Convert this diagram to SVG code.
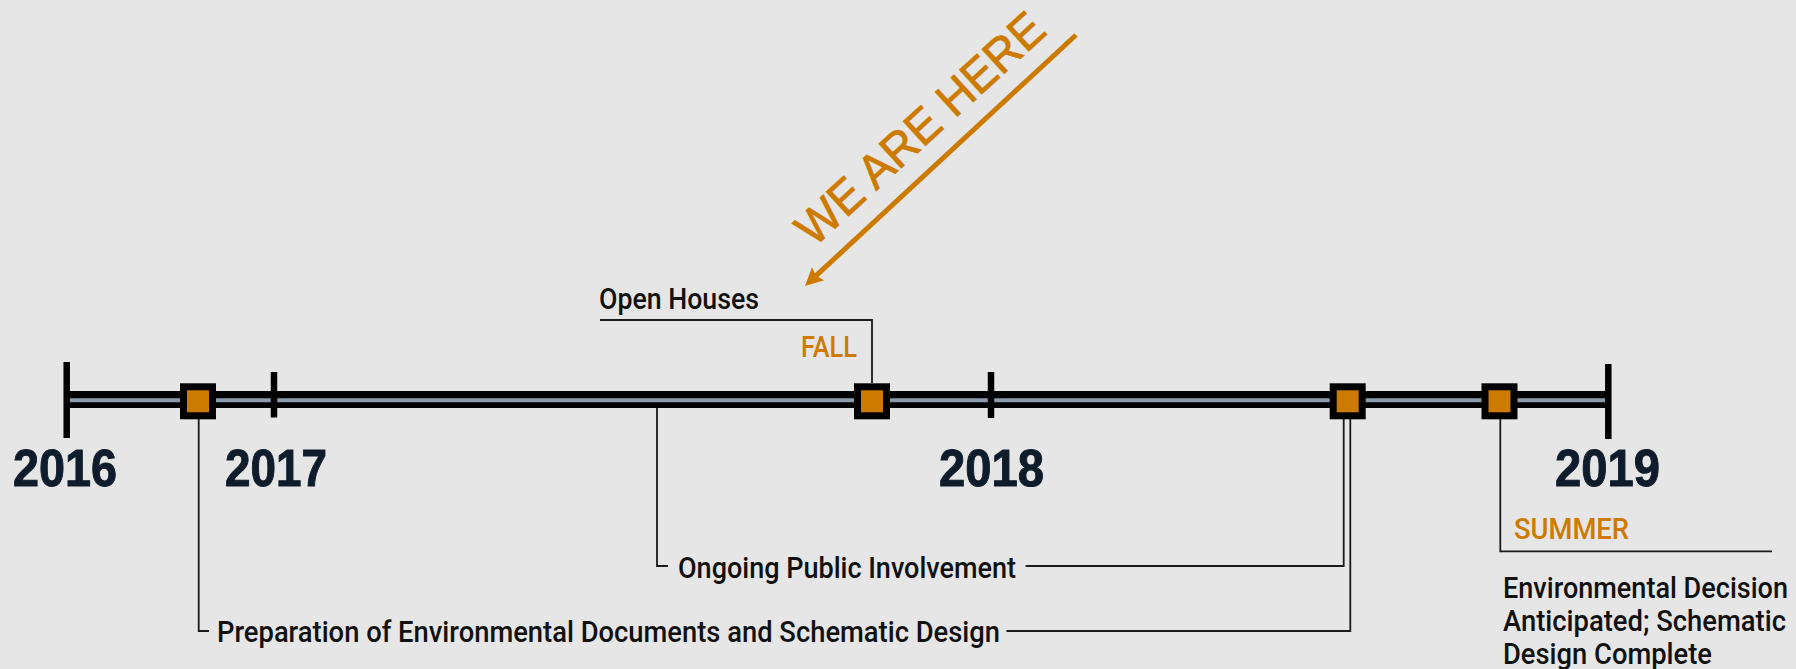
<svg xmlns="http://www.w3.org/2000/svg" width="1796" height="669" viewBox="0 0 1796 669">
<defs>
<style>
.year{font-family:"Liberation Sans",Arial,sans-serif;font-weight:bold;font-size:52px;fill:#0e1c2c;stroke:#0e1c2c;stroke-width:1}
.lbl{font-family:"Roboto","Liberation Sans",sans-serif;font-weight:500;font-size:30px;fill:#111}
.season{font-family:"Roboto","Liberation Sans",sans-serif;font-weight:500;font-size:30px;fill:#cc7a00}
.conn{fill:none;stroke:#1a1a1a;stroke-width:1.8}
.tick{stroke:#000;stroke-width:6.5}
.sq{fill:#cc7a00;stroke:#000;stroke-width:7}
</style>
<marker id="ah" viewBox="0 -10 20 20" markerWidth="20" markerHeight="20" refX="8" refY="0" orient="auto" markerUnits="userSpaceOnUse">
<path d="M0,-9 L18,0 L0,9 L3,0 Z" fill="#cc7a00"/>
</marker>
</defs>
<rect width="1796" height="669" fill="#e6e6e6"/>

<g id="timeline">
<line x1="66" y1="399.5" x2="1608" y2="399.5" stroke="#000" stroke-width="17"/>
<line x1="66" y1="400.3" x2="1608" y2="400.3" stroke="#8a9bae" stroke-width="4"/>
<line class="tick" x1="66.7" y1="362" x2="66.7" y2="438"/>
<line class="tick" x1="274" y1="372" x2="274" y2="417.5"/>
<line class="tick" x1="991" y1="372" x2="991" y2="418"/>
<line class="tick" x1="1608.3" y1="364" x2="1608.3" y2="439"/>
</g>

<g id="connectors">
<polyline class="conn" points="198.7,419 198.7,631 209,631"/>
<polyline class="conn" points="1006.5,631 1350.3,631 1350.3,419"/>
<polyline class="conn" points="657,408 657,566 668,566"/>
<polyline class="conn" points="1025.6,566 1343.7,566 1343.7,419"/>
<polyline class="conn" points="600,320 872,320 872,383"/>
<polyline class="conn" points="1500.3,419 1500.3,551.3 1772,551.3"/>
<line x1="1076" y1="35" x2="812.3" y2="279.2" stroke="#cc7a00" stroke-width="5" marker-end="url(#ah)"/>
</g>

<g id="years">
<text class="year" x="13" y="486" textLength="104" lengthAdjust="spacingAndGlyphs">2016</text>
<text class="year" x="225" y="486" textLength="102" lengthAdjust="spacingAndGlyphs">2017</text>
<text class="year" x="939" y="486" textLength="105" lengthAdjust="spacingAndGlyphs">2018</text>
<text class="year" x="1555" y="486" textLength="105" lengthAdjust="spacingAndGlyphs">2019</text>
</g>

<g id="m1">
<rect class="sq" x="183.5" y="386.8" width="29" height="29"/>
</g>
<g id="m2">
<rect class="sq" x="857.5" y="386.8" width="29" height="29"/>
</g>
<g id="m3">
<rect class="sq" x="1333.2" y="386.8" width="29" height="29"/>
</g>
<g id="m4">
<rect class="sq" x="1485" y="386.8" width="29" height="29"/>
</g>

<g id="open-houses">
<text class="lbl" x="599" y="309" textLength="160" lengthAdjust="spacingAndGlyphs">Open Houses</text>
<text class="season" x="801" y="357" textLength="56" lengthAdjust="spacingAndGlyphs">FALL</text>
</g>
<g id="ongoing">
<text class="lbl" x="678" y="578" textLength="338" lengthAdjust="spacingAndGlyphs">Ongoing Public Involvement</text>
</g>
<g id="preparation">
<text class="lbl" x="217" y="642" textLength="783" lengthAdjust="spacingAndGlyphs">Preparation of Environmental Documents and Schematic Design</text>
</g>
<g id="decision">
<text class="season" x="1514" y="539" textLength="115" lengthAdjust="spacingAndGlyphs">SUMMER</text>
<text class="lbl" x="1503" y="598" textLength="285" lengthAdjust="spacingAndGlyphs">Environmental Decision</text>
<text class="lbl" x="1503" y="631" textLength="283" lengthAdjust="spacingAndGlyphs">Anticipated; Schematic</text>
<text class="lbl" x="1503" y="664" textLength="209" lengthAdjust="spacingAndGlyphs">Design Complete</text>
</g>
<g id="we-are-here">
<text x="814" y="248" transform="rotate(-42.5 814 248)" font-family="Liberation Sans,Arial,sans-serif" font-size="48" fill="#cc7a00" stroke="#cc7a00" stroke-width="0.8" textLength="318" lengthAdjust="spacingAndGlyphs">WE ARE HERE</text>
</g>
</svg>
